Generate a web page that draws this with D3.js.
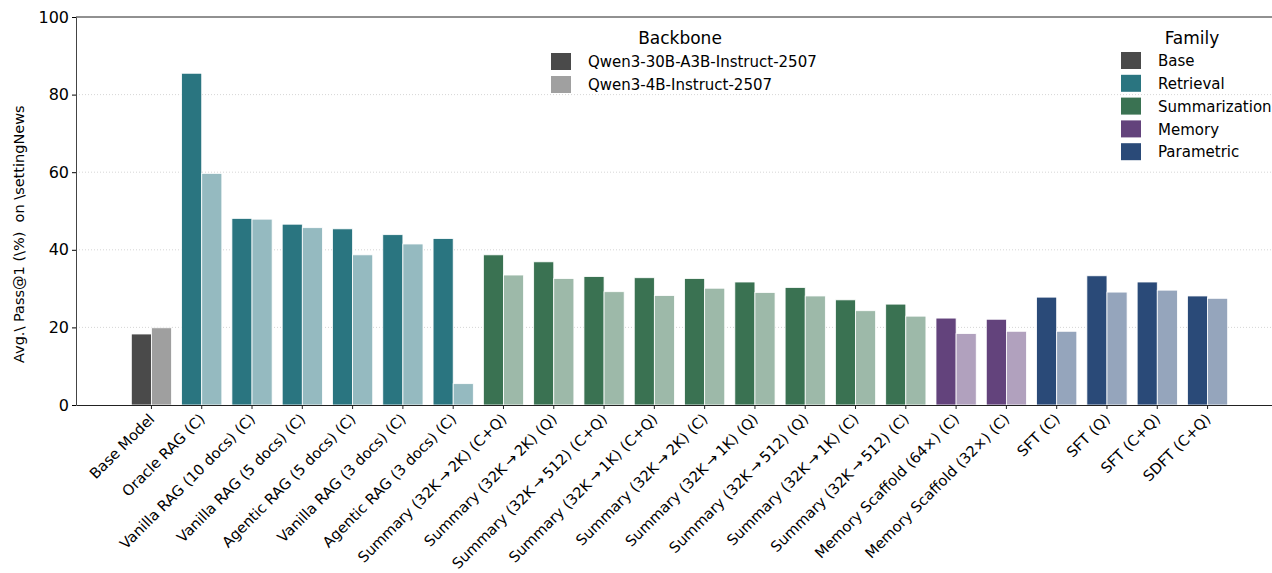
<!DOCTYPE html>
<html>
<head>
<meta charset="utf-8">
<script src="https://cdn.jsdelivr.net/npm/d3@7"></script>
<style>
  body { margin: 0; background: #fff; }
  svg, svg text { font-family: "DejaVu Sans", sans-serif; }
</style>
</head>
<body>
<div id="chart"></div>
<script>
// categories and values
const arrow = "\u2009\u2192\u2009"
const categories = [
  "Base Model", "Oracle RAG (C)", "Vanilla RAG (10 docs) (C)", "Vanilla RAG (5 docs) (C)",
  "Agentic RAG (5 docs) (C)", "Vanilla RAG (3 docs) (C)", "Agentic RAG (3 docs) (C)",
  `Summary (32K${arrow}2K) (C+Q)`, `Summary (32K${arrow}2K) (Q)`, `Summary (32K${arrow}512) (C+Q)`,
  `Summary (32K${arrow}1K) (C+Q)`, `Summary (32K${arrow}2K) (C)`, `Summary (32K${arrow}1K) (Q)`,
  `Summary (32K${arrow}512) (Q)`, `Summary (32K${arrow}1K) (C)`, `Summary (32K${arrow}512) (C)`,
  "Memory Scaffold (64\u00d7) (C)", "Memory Scaffold (32\u00d7) (C)",
  "SFT (C)", "SFT (Q)", "SFT (C+Q)", "SDFT (C+Q)"
]
const families = [
  "Base", "Retrieval", "Retrieval", "Retrieval", "Retrieval", "Retrieval", "Retrieval",
  "Summarization", "Summarization", "Summarization", "Summarization", "Summarization",
  "Summarization", "Summarization", "Summarization", "Summarization",
  "Memory", "Memory", "Parametric", "Parametric", "Parametric", "Parametric"
]
const qwen30b = [18.3, 85.5, 48.1, 46.6, 45.4, 43.9, 42.9, 38.7, 36.9, 33.1, 32.8, 32.6,
  31.7, 30.3, 27.1, 26.0, 22.4, 22.1, 27.8, 33.3, 31.7, 28.1]
const qwen4b = [19.9, 59.7, 47.9, 45.7, 38.7, 41.5, 5.5, 33.5, 32.6, 29.2, 28.2, 30.1,
  29.0, 28.1, 24.3, 22.9, 18.4, 19.0, 19.0, 29.1, 29.6, 27.5]
const backbones = ["Qwen3-30B-A3B-Instruct-2507", "Qwen3-4B-Instruct-2507"]
const familyNames = ["Base", "Retrieval", "Summarization", "Memory", "Parametric"]
const familyColors = ["#4a4a4a", "#2a7580", "#3a7252", "#63437c", "#2a4a78"]
const yTicks = [0, 20, 40, 60, 80, 100]

const width = 1272
const height = 573
const margin = { left: 76, top: 17, bottom: 168 }
const font = "DejaVu Sans, sans-serif"

const svg = d3.select("#chart").append("svg")
  .attr("width", width)
  .attr("height", height)
  .attr("font-family", font)

const color = d3.scaleOrdinal().domain(familyNames).range(familyColors)

const x = d3.scaleBand()
  .domain(categories)
  .range([margin.left, 1283])
  .paddingInner(0.2)
  .paddingOuter(1.1)

const y = d3.scaleLinear()
  .domain([0, 100])
  .range([height - margin.bottom, margin.top])

// grid
svg.append("g")
  .selectAll("line")
  .data(yTicks.filter(d => d > 0 && d < 100))
  .join("line")
    .attr("x1", margin.left)
    .attr("x2", width)
    .attr("y1", d => y(d))
    .attr("y2", d => y(d))
    .attr("stroke", "#cccccc")
    .attr("stroke-width", 0.8)
    .attr("stroke-dasharray", "1,2")

// bars
const rows = categories.map((c, i) => ({ cat: c, fam: families[i], a: qwen30b[i], b: qwen4b[i] }))
const bw = x.bandwidth() / 2

const groups = svg.append("g")
  .selectAll("g")
  .data(rows)
  .join("g")

groups.append("rect")
  .attr("x", d => x(d.cat))
  .attr("y", d => y(d.a))
  .attr("width", bw)
  .attr("height", d => y(0) - y(d.a))
  .attr("fill", d => color(d.fam))
  .attr("stroke", "#ffffff")
  .attr("stroke-width", 0.8)

groups.append("rect")
  .attr("x", d => x(d.cat) + bw)
  .attr("y", d => y(d.b))
  .attr("width", bw)
  .attr("height", d => y(0) - y(d.b))
  .attr("fill", d => d3.interpolateRgb(color(d.fam), "#ffffff")(d.fam === "Base" ? 0.47 : 0.5))
  .attr("stroke", "#ffffff")
  .attr("stroke-width", 0.8)

// axes
const xAxis = svg.append("g")
  .attr("transform", `translate(0,${y(0)})`)
  .call(d3.axisBottom(x).tickSize(4).tickSizeOuter(0))
xAxis.attr("font-family", font)
xAxis.select(".domain").attr("stroke", "#222")
xAxis.selectAll(".tick line").attr("stroke", "#222")
xAxis.selectAll(".tick text")
  .attr("font-size", 14.7)
  .attr("fill", "#000")
  .attr("text-anchor", "end")
  .attr("y", 0)
  .attr("dy", 0)
  .attr("transform", "translate(4,15) rotate(-45)")

const yAxis = svg.append("g")
  .attr("transform", `translate(${margin.left},0)`)
  .call(d3.axisLeft(y).tickValues(yTicks).tickSize(4).tickSizeOuter(0))
yAxis.attr("font-family", font)
yAxis.select(".domain").attr("stroke", "#444")
yAxis.selectAll(".tick text").attr("font-size", 16).attr("fill", "#000")

// top spine
svg.append("line")
  .attr("x1", margin.left)
  .attr("x2", width)
  .attr("y1", y(100))
  .attr("y2", y(100))
  .attr("stroke", "#222")

// y label, running upward from just above the 0 tick
svg.append("text")
  .attr("transform", `translate(24,363) rotate(-90)`)
  .attr("text-anchor", "start")
  .attr("font-size", 14.5)
  .style("white-space", "pre")
  .text("Avg.\\ Pass@1 (\\%)  on \\settingNews")

// backbone legend
const bbColors = ["#4a4a4a", "#a0a0a0"]
const bbLeg = svg.append("g")
bbLeg.append("text")
  .attr("x", 680).attr("y", 44)
  .attr("text-anchor", "middle")
  .attr("font-size", 17)
  .text("Backbone")
bbLeg.selectAll("rect")
  .data(backbones)
  .join("rect")
    .attr("x", 551)
    .attr("y", (d, i) => 53 + i * 23)
    .attr("width", 20)
    .attr("height", 17)
    .attr("fill", (d, i) => bbColors[i])
bbLeg.selectAll(".lbl")
  .data(backbones)
  .join("text")
    .attr("class", "lbl")
    .attr("x", 588)
    .attr("y", (d, i) => 62 + i * 23)
    .attr("dy", "0.35em")
    .attr("font-size", 15)
    .text(d => d)

// family legend
const famLeg = svg.append("g")
famLeg.append("text")
  .attr("x", 1192).attr("y", 44)
  .attr("text-anchor", "middle")
  .attr("font-size", 17)
  .text("Family")
famLeg.selectAll("rect")
  .data(familyNames)
  .join("rect")
    .attr("x", 1121)
    .attr("y", (d, i) => 52 + i * 22.8)
    .attr("width", 20)
    .attr("height", 17)
    .attr("fill", d => color(d))
famLeg.selectAll(".lbl")
  .data(familyNames)
  .join("text")
    .attr("class", "lbl")
    .attr("x", 1158)
    .attr("y", (d, i) => 61 + i * 22.8)
    .attr("dy", "0.35em")
    .attr("font-size", 15)
    .text(d => d)
</script>
</body>
</html>
